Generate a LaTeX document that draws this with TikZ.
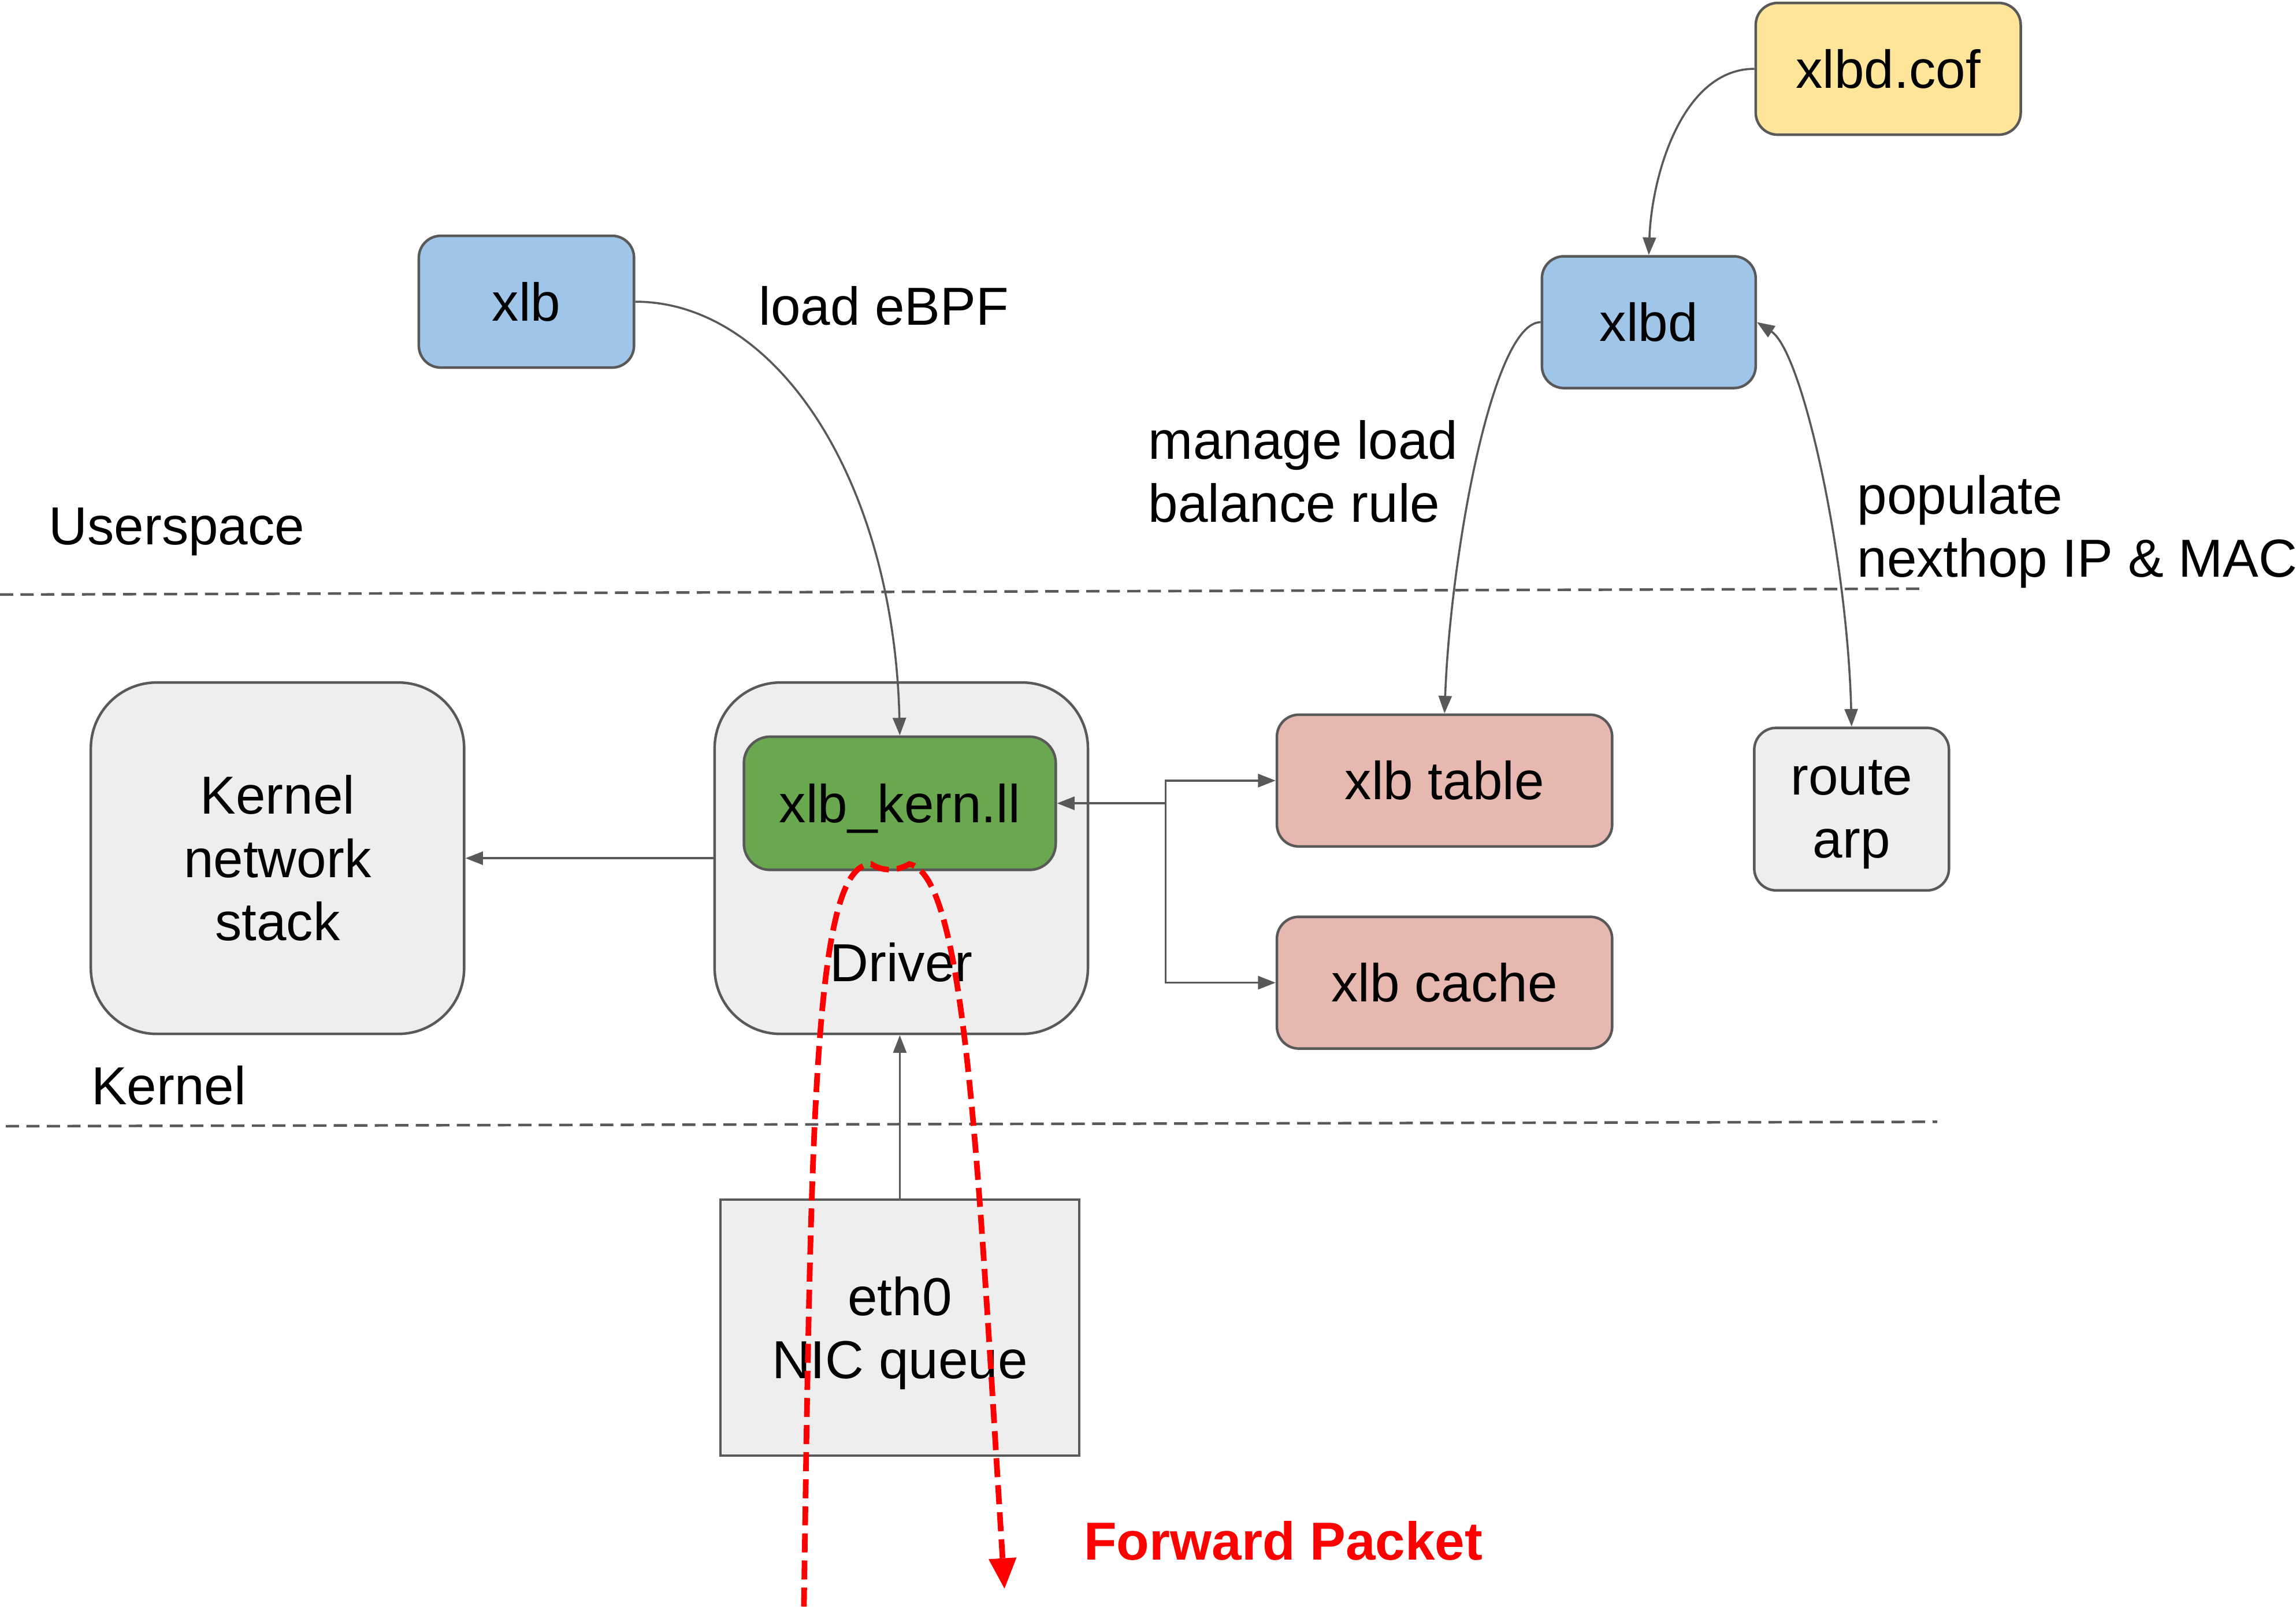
\documentclass[tikz,border=0pt]{standalone}
\usepackage{fontspec}
\setmainfont{Liberation Sans}
\usetikzlibrary{arrows.meta}

\definecolor{lineGray}{HTML}{595959}
\definecolor{progBlue}{HTML}{9FC5E8}
\definecolor{confYellow}{HTML}{FFE599}
\definecolor{kernGreen}{HTML}{6AA84F}
\definecolor{mapPink}{HTML}{E6B8AF}
\definecolor{boxGray}{HTML}{EEEEEE}

\tikzset{
	box/.style={draw=lineGray, line width=1pt, rounded corners=0.3cm, inner sep=0pt, align=center, font=\fontsize{20.8}{24.6}\selectfont},
	bigbox/.style={box, fill=boxGray, rounded corners=0.9cm, minimum width=5.1cm, minimum height=4.8cm},
	conn/.style={draw=lineGray, line width=0.8pt, -{Triangle[length=0.24cm, width=0.18cm]}},
	sep/.style={draw=lineGray, line width=1pt, dash pattern=on 0.18cm off 0.1cm},
	fwd/.style={draw=red, line width=2.2pt, dash pattern=on 0.26cm off 0.11cm, -{Triangle[length=0.42cm, width=0.36cm]}},
	lbl/.style={anchor=west, inner sep=0pt, align=left, font=\fontsize{20.8}{24.6}\selectfont}
}

\begin{document}
\begin{tikzpicture}[x=0.02cm, y=-0.02cm]

	\useasboundingbox (0, 0) rectangle (1568, 1097);

	% userspace side
	\node[box, fill=confYellow, minimum width=3.62cm, minimum height=1.8cm] (xlbdcof) at (1289.5, 47) {xlbd.cof};
	\node[box, fill=progBlue, minimum width=2.94cm, minimum height=1.8cm] (xlb) at (359.5, 206) {xlb};
	\node[box, fill=progBlue, minimum width=2.92cm, minimum height=1.8cm] (xlbd) at (1126, 220) {xlbd};

	\node[lbl] (loadtxt) at (518, 209) {load eBPF};
	\node[lbl] (managetxt) at (784, 322) {manage load\\balance rule};
	\node[lbl] (populatetxt) at (1268, 363) {populate\\nexthop IP \& MAC};
	\node[lbl] (usertxt) at (33, 363) {Userspace};
	\node[lbl] (kerntxt) at (62, 741) {Kernel};

	\draw[sep] (0, 406) -- (1313, 402);
	\draw[sep] (4, 769) -- (1323, 766);

	% kernel side
	\node[bigbox] (kstack) at (189.5, 586) {Kernel\\network\\stack};
	\node[bigbox] (driver) at (615.5, 586) {};
	\node[lbl, anchor=center] (drivertxt) at (615.5, 657) {Driver};
	\node[box, fill=kernGreen, rounded corners=0.36cm, text depth=0pt, minimum width=4.26cm, minimum height=1.82cm] (kern) at (614.5, 548.5) {xlb\_kern.ll};
	\node[box, fill=mapPink, minimum width=4.58cm, minimum height=1.8cm] (xtable) at (986.5, 533) {xlb table};
	\node[box, fill=mapPink, minimum width=4.58cm, minimum height=1.8cm] (xcache) at (986.5, 671) {xlb cache};
	\node[box, fill=boxGray, text depth=0pt, minimum width=2.66cm, minimum height=2.22cm] (routearp) at (1264.5, 552.5) {route\\arp};
	\node[box, fill=boxGray, text depth=0pt, rounded corners=0pt, minimum width=4.9cm, minimum height=3.5cm] (eth0) at (614.5, 906.5) {eth0\\NIC queue};

	\node[lbl, text=red, font=\fontsize{20.8}{24.6}\selectfont\bfseries] (fwdtxt) at (740, 1052) {Forward Packet};

	% connectors
	\draw[conn] (xlb.east) .. controls +(97, 0) and +(-4, -173) .. (kern.north);
	\draw[conn] (xlbdcof.west) .. controls +(-49, 0) and +(2, -55) .. (xlbd.north);
	\draw[conn] (xlbd.west) .. controls +(-33, 0) and +(4, -108) .. (xtable.north);
	\draw[conn, {Triangle[length=0.24cm, width=0.18cm]}-{Triangle[length=0.24cm, width=0.18cm]}] (xlbd.east) .. controls +(31, 20) and +(-3, -117) .. (routearp.north);

	\coordinate (branch) at (796, 548.5);
	\draw[conn] (branch) -- (kern.east);
	\draw[conn] (branch) |- (xtable.west);
	\draw[conn] (branch) |- (xcache.west);

	\draw[conn] (driver.west) -- (kstack.east);
	\draw[conn] (eth0.north) -- (eth0.north |- driver.south);

	% packet path
	\draw[fwd] (549, 1097) .. controls (554, 760) and (556, 590) .. (595, 590)
		.. controls (603, 595) and (612, 595) .. (621, 590)
		.. controls (660, 598) and (668, 800) .. (686, 1085);

\end{tikzpicture}
\end{document}
